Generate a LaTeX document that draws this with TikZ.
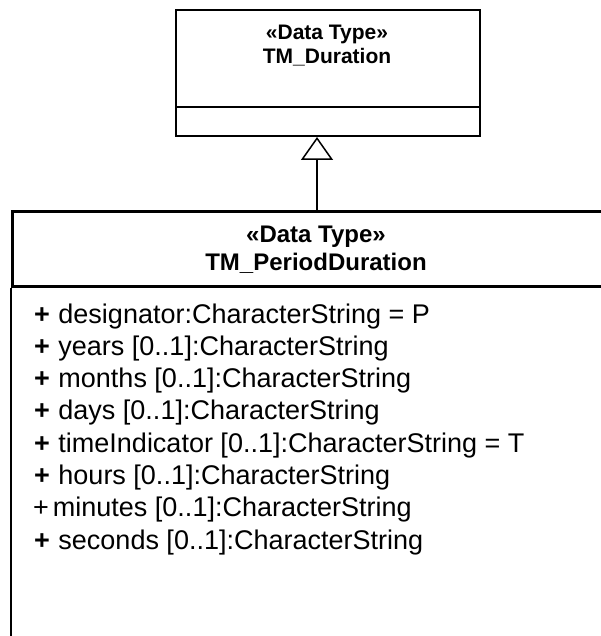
\documentclass[tikz,border=0pt]{standalone}
\usepackage{fontspec}
\setmainfont{Liberation Sans}
\usetikzlibrary{arrows.meta}
\begin{document}
\begin{tikzpicture}[x=1pt,y=-1pt,
  attr/.style={anchor=base west, inner sep=0pt, font=\fontsize{27}{30}\selectfont},
  suptxt/.style={anchor=base, inner sep=0pt, font=\fontsize{21}{24}\selectfont\bfseries},
  subtxt/.style={anchor=base, inner sep=0pt, font=\fontsize{24}{28}\selectfont\bfseries},
  classbox/.style={draw=black, fill=white, inner sep=0pt, anchor=north west}]
\useasboundingbox (0,0) rectangle (600,636);
% supertype
\node[classbox, line width=2pt, minimum width=304pt, minimum height=126pt] (super) at (175,9) {};
\coordinate (supdiv) at (175,107);
\draw[line width=1.3pt] (supdiv) -- (supdiv -| super.east);
\node[suptxt] (supst) at (327,40) {«Data Type»};
\node[suptxt] (supname) at (327,64) {TM\_Duration};
% subtype header
\node[classbox, line width=3pt, minimum width=760pt, minimum height=75pt] (sub) at (11,210) {};
\node[subtxt] (subst) at (316,242) {«Data Type»};
\node[subtxt] (subname) at (316,270) {TM\_PeriodDuration};
% attribute compartment
\coordinate (attrend) at (11,660);
\draw[line width=1.3pt] (sub.south west) -- (attrend);
% generalization
\coordinate (ax) at (317,0);
\draw[line width=1.5pt, -{Triangle[open, length=23pt, width=32pt, line width=1.5pt]}]
  (sub.north -| ax) -- (super.south -| ax);
% attributes
\node[attr] (a1) at (34,323) {\textbf{+}\kern1pt\ designator:CharacterString = P};
\node[attr] (a2) at (34,355.3) {\textbf{+}\kern1pt\ years [0..1]:CharacterString};
\node[attr] (a3) at (34,387.6) {\textbf{+}\kern1pt\ months [0..1]:CharacterString};
\node[attr] (a4) at (34,419.9) {\textbf{+}\kern1pt\ days [0..1]:CharacterString};
\node[attr] (a5) at (34,452.2) {\textbf{+}\kern1pt\ timeIndicator [0..1]:CharacterString = T};
\node[attr] (a6) at (34,484.5) {\textbf{+}\kern1pt\ hours [0..1]:CharacterString};
\node[attr] (a7) at (33,516.8) {+\kern4pt minutes [0..1]:CharacterString};
\node[attr] (a8) at (34,549.1) {\textbf{+}\kern1pt\ seconds [0..1]:CharacterString};
\end{tikzpicture}
\end{document}
